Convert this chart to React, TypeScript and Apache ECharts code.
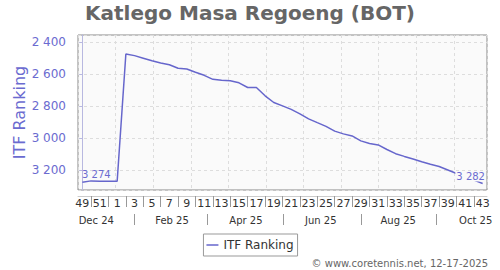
import React, { useEffect, useRef } from "react";
import * as echarts from "echarts";

const weeks: number[] = [49, 50, 51, 52, 1, 2, 3, 4, 5, 6, 7, 8, 9, 10, 11, 12, 13, 14, 15, 16, 17, 18, 19, 20, 21, 22, 23, 24, 25, 26, 27, 28, 29, 30, 31, 32, 33, 34, 35, 36, 37, 38, 39, 40, 41, 42, 43];
const ranking: number[] = [3274, 3266, 3268, 3268, 3268, 2473, 2483, 2499, 2515, 2529, 2540, 2562, 2567, 2587, 2606, 2631, 2637, 2640, 2653, 2682, 2682, 2734, 2776, 2797, 2819, 2847, 2878, 2902, 2925, 2955, 2972, 2985, 3016, 3032, 3041, 3070, 3096, 3113, 3129, 3146, 3162, 3176, 3198, 3220, 3242, 3261, 3282];
const monthLabels: string[] = ["Dec 24", "Feb 25", "Apr 25", "Jun 25", "Aug 25", "Oct 25"];
const monthLabelPos: number[] = [1.6, 10.3, 18.8, 27.4, 36.3, 45.2];
const monthSeparatorPos: number[] = [6, 14.4, 23.1, 32, 40.7];

const LINE = "#6666cc";
const AXISTXT = "#6b6bd0";
const FONT = "DejaVu Sans";

const fmt = (v: number) => {
  const s = String(Math.round(v));
  return s.replace(/\B(?=(\d{3})+(?!\d))/g, " ");
};

export default function App() {
  const ref = useRef<HTMLDivElement>(null);
  useEffect(() => {
    if (!ref.current) return;
    document.body.style.margin = "0";
    const chart = echarts.init(ref.current, null, { renderer: "svg" });
    const last = ranking.length - 1;
    const data = ranking.map((v, i) => {
      if (i === 0) {
        return { value: v, label: { show: true, position: "top", distance: 3, offset: [14, 0], formatter: (p: any) => fmt(p.value), color: AXISTXT, fontSize: 10, fontFamily: FONT } };
      }
      if (i === last) {
        return { value: v, label: { show: true, position: "top", distance: 2, offset: [-12, 0], formatter: (p: any) => fmt(p.value), color: AXISTXT, fontSize: 10, fontFamily: FONT, backgroundColor: "#fafafa", padding: [0, 1] } };
      }
      return v;
    });
    chart.setOption({
      animation: false,
      textStyle: { fontFamily: FONT },
      title: {
        text: "Katlego Masa Regoeng (BOT)",
        left: "center",
        top: -2,
        textStyle: { fontSize: 20, fontWeight: "bold", color: "#666", fontFamily: FONT },
      },
      legend: {
        top: 234,
        left: "center",
        itemWidth: 12,
        itemHeight: 12,
        symbolKeepAspect: true,
        padding: [5, 4, 5, 3],
        borderColor: "#999",
        borderWidth: 1,
        textStyle: { fontSize: 12, color: "#333", fontFamily: FONT },
        data: [{ name: "ITF Ranking", icon: "path://M0 0H12V1.5H0Z" }],
      },
      grid: {
        left: 78,
        right: 13,
        top: 35,
        bottom: 80,
        show: true,
        backgroundColor: "#fafafa",
        borderColor: "#888",
        borderWidth: 1,
        containLabel: false,
      },
      xAxis: [
        {
          type: "category",
          data: weeks.map(String),
          boundaryGap: true,
          position: "bottom",
          offset: 6,
          axisLine: { show: true, lineStyle: { color: "#ccc" } },
          axisTick: {
            show: true,
            alignWithLabel: true,
            interval: (index: number) => index % 2 === 1,
            length: 11,
            lineStyle: { color: "#999" },
          },
          axisLabel: {
            interval: (index: number) => index % 2 === 0,
            margin: 2,
            fontSize: 11,
            color: "#333",
            fontFamily: FONT,
          },
          splitLine: { show: false },
        },
        {
          type: "value",
          min: -0.5,
          max: ranking.length - 0.5,
          position: "bottom",
          offset: 24,
          axisLine: { show: false },
          axisTick: { show: true, length: 11, customValues: monthSeparatorPos, lineStyle: { color: "#999" } },
          axisLabel: {
            show: true,
            margin: 1,
            customValues: monthLabelPos,
            fontSize: 10,
            color: "#333",
            fontFamily: FONT,
            formatter: (v: number) => {
              const k = monthLabelPos.indexOf(v);
              return k >= 0 ? monthLabels[k] : "";
            },
          },
          splitLine: { show: false },
        },
        {
          type: "value",
          min: 0,
          max: 10.88,
          interval: 1,
          position: "top",
          axisLine: { show: false },
          axisTick: { show: false },
          axisLabel: { show: false },
          splitLine: { show: true, lineStyle: { color: "#ddd", type: [3, 3] } },
        },
      ],
      yAxis: {
        type: "value",
        inverse: true,
        min: 2354,
        max: 3323,
        splitNumber: 5,
        offset: 5,
        name: "ITF Ranking",
        nameLocation: "middle",
        nameGap: 46,
        nameMoveOverlap: false,
        nameTextStyle: { fontSize: 16, color: AXISTXT, fontFamily: FONT },
        axisLine: { show: true, lineStyle: { color: "#b8b8e0" } },
        axisTick: { show: true, length: 3, lineStyle: { color: "#b8b8e0" } },
        axisLabel: {
          showMinLabel: false,
          showMaxLabel: false,
          margin: 7,
          fontSize: 12,
          color: AXISTXT,
          fontFamily: FONT,
          formatter: (v: number) => fmt(v),
        },
        splitLine: { show: true, lineStyle: { color: "#ddd", type: [3, 3] } },
      },
      series: [
        {
          name: "ITF Ranking",
          type: "line",
          xAxisIndex: 0,
          yAxisIndex: 0,
          data,
          symbol: "circle",
          symbolSize: 0,
          showSymbol: true,
          lineStyle: { color: LINE, width: 1.5 },
          itemStyle: { color: LINE },
        },
      ],
      graphic: [
        {
          type: "text",
          right: 12,
          top: 258,
          style: { text: "© www.coretennis.net, 12-17-2025", fontSize: 10, fill: "#666", fontFamily: FONT },
        },
      ],
    });
    return () => chart.dispose();
  }, []);
  return <div ref={ref} style={{ width: 500, height: 270 }} />;
}
